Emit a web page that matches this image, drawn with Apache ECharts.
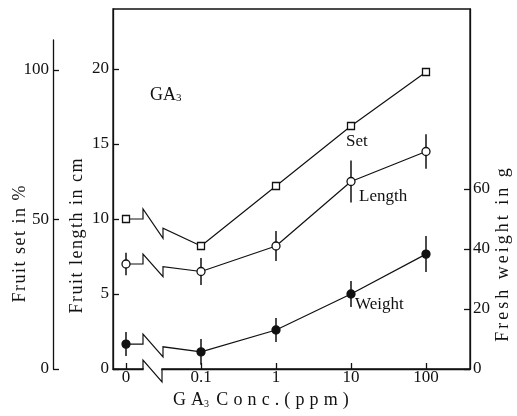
<!DOCTYPE html>
<html>
<head>
<meta charset="utf-8">
<script src="https://cdn.jsdelivr.net/npm/echarts@6/dist/echarts.min.js"></script>
<style>
html, body { margin: 0; padding: 0; background: #fff; }
#chart { width: 517px; height: 416px; }
</style>
</head>
<body>
<div id="chart"></div>
<script>
var concLabels = ['0', '0.1', '1', '10', '100'];
var fruitSet = [50, 41, 61, 81, 99];
var fruitLength = [7.0, 6.5, 8.2, 12.5, 14.5];
var lengthErr = [0.75, 0.9, 1.0, 1.4, 1.15];
var freshWeight = [8.3, 5.7, 13, 25, 38.3];
var weightErr = [4, 4.3, 4, 4.3, 6];
var lengthTicks = [0, 5, 10, 15, 20];
var setTicks = [0, 50, 100];
var weightTicks = [0, 20, 40, 60];

var INK = '#111';
var FONT = '"Liberation Serif", "DejaVu Serif", serif';
var concPos = concLabels.map(function (c, i) { return i; });

// the printed axis names are letter-spaced
function spaced(s, gap) {
    return s.split('').join(gap);
}

// line from 0.1 on, point at 0 kept apart (the break is drawn by hand)
function lineData(vals, labelText, offset) {
    var d = [[0, vals[0]], [0.5, '-']];
    for (var i = 1; i < vals.length; i++) d.push([i, vals[i]]);
    d[4] = {
        value: d[4],
        label: {
            show: true, formatter: labelText, position: 'inside',
            align: 'left', verticalAlign: 'middle', offset: offset,
            color: INK, fontFamily: FONT, fontSize: 17
        }
    };
    return d;
}

function lineSeries(name, vals, yIdx, symbol, size, filled, labelText, offset) {
    return {
        type: 'line', name: name, xAxisIndex: 0, yAxisIndex: yIdx, z: 5,
        data: lineData(vals, labelText, offset),
        symbol: symbol, symbolSize: size, showAllSymbol: true,
        lineStyle: { color: INK, width: 1.2 },
        itemStyle: { color: filled ? INK : '#fff', borderColor: INK, borderWidth: 1.3 }
    };
}

function breakSeries(vals, yIdx) {
    return {
        type: 'custom', xAxisIndex: 0, yAxisIndex: yIdx, z: 4, silent: true, clip: false,
        data: [[0, vals[0], 1, vals[1]]],
        renderItem: function (params, api) {
            var p0 = api.coord([api.value(0), api.value(1)]);
            var p1 = api.coord([api.value(2), api.value(3)]);
            var xa = p0[0] + 17, xb = p0[0] + 37;
            var ym = p0[1] + (p1[1] - p0[1]) * (xb - xa) / (p1[0] - xa);
            return {
                type: 'polyline',
                shape: { points: [p0, [xa, p0[1]], [xa, p0[1] - 10], [xb, ym + 10], [xb, ym], p1] },
                style: { stroke: INK, lineWidth: 1.2, fill: null }
            };
        }
    };
}

function errSeries(vals, errs, yIdx) {
    return {
        type: 'custom', xAxisIndex: 0, yAxisIndex: yIdx, z: 3, silent: true,
        data: vals.map(function (v, i) { return [i, v, errs[i]]; }),
        renderItem: function (params, api) {
            var x = api.value(0), v = api.value(1), e = api.value(2);
            var a = api.coord([x, v - e]), b = api.coord([x, v + e]);
            return {
                type: 'line',
                shape: { x1: a[0], y1: a[1], x2: b[0], y2: b[1] },
                style: { stroke: INK, lineWidth: 1.5 }
            };
        }
    };
}

var axisFont = { color: INK, fontFamily: FONT, fontSize: 17 };
var lineOpt = { show: true, onZero: false, lineStyle: { color: INK, width: 1.3 } };
var tickOpt = function (vals) {
    return { show: true, inside: true, length: 6, customValues: vals, lineStyle: { color: INK, width: 1.3 } };
};
var HAIR = '\u200A';
var THIN = '\u2009';

var chart = echarts.init(document.getElementById('chart'));
chart.setOption({
    animation: false,
    backgroundColor: '#fff',
    title: [
        {
            text: 'GA{s|3}', left: 150, top: 86, padding: 0,
            textStyle: { color: INK, fontFamily: FONT, fontSize: 18, fontWeight: 'normal',
                rich: { s: { color: INK, fontFamily: FONT, fontSize: 11, verticalAlign: 'bottom', padding: [6, 0, 0, 0] } } }
        },
        {
            text: spaced('GA', THIN + HAIR) + '{s|3}' + THIN + THIN + spaced('Conc.(ppm)', THIN + HAIR), left: 173, top: 391, padding: 0,
            textStyle: { color: INK, fontFamily: FONT, fontSize: 18, fontWeight: 'normal',
                rich: { s: { color: INK, fontFamily: FONT, fontSize: 10, verticalAlign: 'bottom', padding: [6, 0, 0, 0] } } }
        }
    ],
    grid: [
        { left: 113, right: 47, top: 9, bottom: 47, show: true, borderColor: INK, borderWidth: 1.3, backgroundColor: 'transparent' },
        { left: 53, width: 20, top: 40, bottom: 47 }
    ],
    xAxis: [
        {
            gridIndex: 0, type: 'value', min: -13 / 75, max: 344 / 75,
            axisLine: lineOpt,
            axisTick: tickOpt(concPos),
            axisLabel: { margin: 0, customValues: concPos, formatter: function (v) { return concLabels[Math.round(v)]; }, color: INK, fontFamily: FONT, fontSize: 17 },
            splitLine: { show: false }
        },
        { gridIndex: 1, type: 'value', show: false }
    ],
    yAxis: [
        {
            gridIndex: 0, type: 'value', position: 'left', min: 0, max: 24,
            axisLine: lineOpt,
            axisTick: tickOpt(lengthTicks),
            axisLabel: Object.assign({ margin: 4, customValues: lengthTicks }, axisFont),
            splitLine: { show: false }
        },
        {
            gridIndex: 0, type: 'value', position: 'right', min: 0, max: 120,
            axisLine: lineOpt,
            axisTick: tickOpt(weightTicks),
            axisLabel: Object.assign({ margin: 3, customValues: weightTicks }, axisFont),
            splitLine: { show: false }
        },
        {
            gridIndex: 1, type: 'value', position: 'left', min: 0, max: 110,
            axisLine: lineOpt,
            axisTick: tickOpt(setTicks),
            axisLabel: Object.assign({ margin: 4, customValues: setTicks }, axisFont),
            splitLine: { show: false }
        }
    ],
    graphic: [
        { type: 'text', x: 20, y: 244, rotation: Math.PI / 2, style: { text: spaced('Fruit set in %', HAIR), align: 'center', verticalAlign: 'middle', fill: INK, font: '18px ' + FONT } },
        { type: 'text', x: 77, y: 236, rotation: Math.PI / 2, style: { text: spaced('Fruit length in cm', HAIR), align: 'center', verticalAlign: 'middle', fill: INK, font: '18px ' + FONT } },
        { type: 'text', x: 503, y: 255, rotation: Math.PI / 2, style: { text: spaced('Fresh weight in g', HAIR + HAIR), align: 'center', verticalAlign: 'middle', fill: INK, font: '18px ' + FONT } }
    ],
    series: [
        // break on the x axis between 0 and 0.1
        {
            type: 'custom', xAxisIndex: 0, yAxisIndex: 0, z: 6, silent: true, clip: false,
            data: [[0, 0]],
            renderItem: function (params, api) {
                var p = api.coord([api.value(0), api.value(1)]);
                var xa = p[0] + 17, xb = p[0] + 36;
                return {
                    type: 'group',
                    children: [
                        { type: 'rect', shape: { x: xa + 0.7, y: p[1] - 2.5, width: xb - xa - 1.4, height: 5 }, style: { fill: '#fff' } },
                        { type: 'polyline', shape: { points: [[xa, p[1]], [xa, p[1] - 9], [xb, p[1] + 13], [xb, p[1]]] }, style: { stroke: INK, lineWidth: 1.2, fill: null } }
                    ]
                };
            }
        },
        errSeries(fruitLength, lengthErr, 0),
        errSeries(freshWeight, weightErr, 1),
        breakSeries(fruitSet, 1),
        breakSeries(fruitLength, 0),
        breakSeries(freshWeight, 1),
        lineSeries('Set', fruitSet, 1, 'rect', 7, false, 'Set', [-5, 16]),
        lineSeries('Length', fruitLength, 0, 'circle', 8, false, 'Length', [8, 15]),
        lineSeries('Weight', freshWeight, 1, 'circle', 8, true, 'Weight', [4, 11])
    ]
});
</script>
</body>
</html>
